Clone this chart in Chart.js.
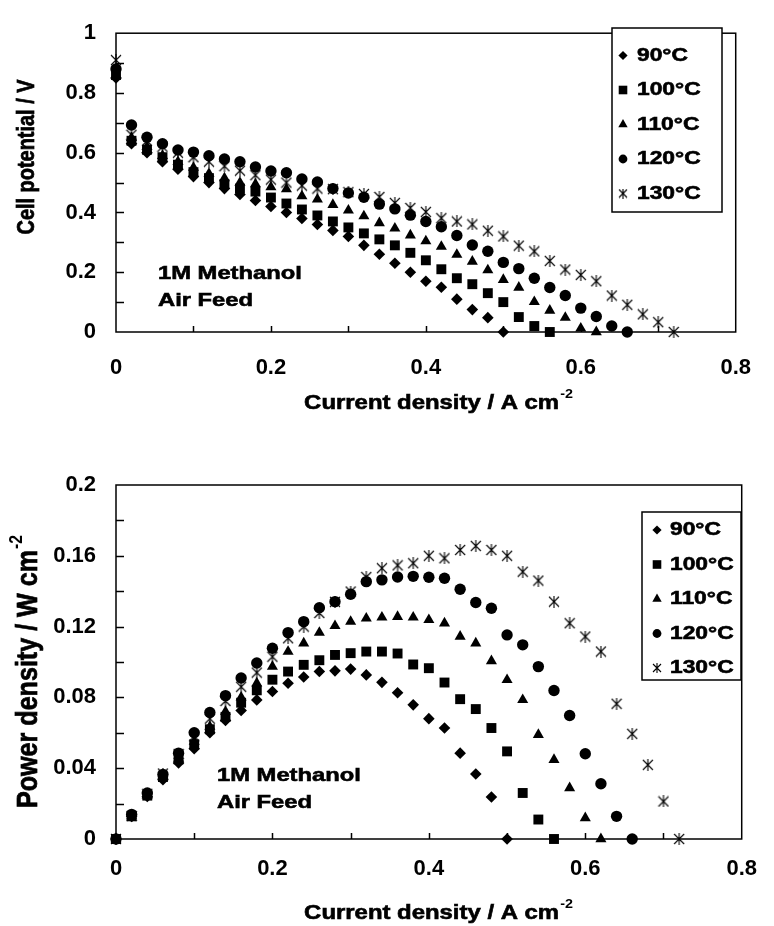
<!DOCTYPE html>
<html>
<head>
<meta charset="utf-8">
<script src="https://cdn.jsdelivr.net/npm/chart.js@4.4.1/dist/chart.umd.min.js"></script>
<style>
  body { margin: 0; background: #fff; width: 774px; height: 926px; overflow: hidden; position: relative; }
  .box { position: absolute; left: 0; width: 774px; }
</style>
</head>
<body>
<div class="box" style="top:0;height:440px"><canvas id="voltChart"></canvas></div>
<div class="box" style="top:440px;height:486px"><canvas id="powerChart"></canvas></div>
<script>
// current density, A cm-2
const current = [0, 0.02, 0.04, 0.06, 0.08, 0.1, 0.12, 0.14, 0.16, 0.18, 0.2, 0.22, 0.24, 0.26, 0.28, 0.3, 0.32, 0.34, 0.36,
  0.38, 0.4, 0.42, 0.44, 0.46, 0.48, 0.5, 0.52, 0.54, 0.56, 0.58, 0.6, 0.62, 0.64, 0.66, 0.68, 0.7, 0.72];
const temps = ['90°C', '100°C', '110°C', '120°C', '130°C'];

// cell potential, V
const volt90 = [0.85, 0.63, 0.60, 0.57, 0.545, 0.52, 0.50, 0.48, 0.46, 0.44, 0.42, 0.40, 0.38, 0.36, 0.34, 0.32, 0.29,
  0.26, 0.23, 0.20, 0.17, 0.15, 0.11, 0.075, 0.048, 0];
const volt100 = [0.86, 0.64, 0.61, 0.585, 0.56, 0.535, 0.515, 0.495, 0.48, 0.47, 0.45, 0.43, 0.41, 0.39, 0.37, 0.35, 0.33,
  0.31, 0.29, 0.265, 0.24, 0.21, 0.18, 0.16, 0.13, 0.10, 0.05, 0.02, 0];
const volt110 = [0.86, 0.65, 0.62, 0.59, 0.57, 0.55, 0.53, 0.515, 0.50, 0.495, 0.485, 0.478, 0.455, 0.444, 0.426, 0.407,
  0.388, 0.365, 0.347, 0.324, 0.304, 0.286, 0.259, 0.236, 0.207, 0.175, 0.149, 0.101, 0.072, 0.048, 0.012, 0];
const volt120 = [0.88, 0.693, 0.652, 0.63, 0.609, 0.602, 0.59, 0.579, 0.57, 0.552, 0.539, 0.533, 0.512, 0.502, 0.48, 0.465,
  0.451, 0.428, 0.412, 0.391, 0.37, 0.352, 0.323, 0.291, 0.27, 0.233, 0.212, 0.18, 0.149, 0.122, 0.08, 0.052, 0.02, 0];
const volt130 = [0.91, 0.66, 0.64, 0.62, 0.60, 0.585, 0.57, 0.555, 0.54, 0.525, 0.51, 0.50, 0.49, 0.48, 0.478, 0.468,
  0.462, 0.452, 0.432, 0.415, 0.402, 0.381, 0.37, 0.36, 0.339, 0.32, 0.289, 0.27, 0.238, 0.209, 0.191, 0.17, 0.122,
  0.091, 0.059, 0.033, 0];

// power density, W cm-2
const pow90 = [0, 0.0128, 0.024, 0.0335, 0.043, 0.051, 0.060, 0.067, 0.0726, 0.0786, 0.0833, 0.088, 0.0915, 0.0946,
  0.095, 0.096, 0.0927, 0.0885, 0.0826, 0.0758, 0.068, 0.0627, 0.0485, 0.0367, 0.0237, 0];
const pow100 = [0, 0.0128, 0.0245, 0.035, 0.045, 0.0535, 0.062, 0.069, 0.077, 0.084, 0.090, 0.0946, 0.0984, 0.101, 0.104,
  0.105, 0.1059, 0.1059, 0.1048, 0.0986, 0.0965, 0.0884, 0.079, 0.0734, 0.0627, 0.0495, 0.026, 0.011, 0];
const pow110 = [0, 0.013, 0.025, 0.0355, 0.0455, 0.055, 0.0635, 0.072, 0.080, 0.088, 0.0974, 0.1059, 0.1106, 0.1166,
  0.1204, 0.1228, 0.1247, 0.1252, 0.1256, 0.1252, 0.1238, 0.1219, 0.1144, 0.1106, 0.1006, 0.0899, 0.0786, 0.0589,
  0.0448, 0.0288, 0.0119, 0];
const pow120 = [0, 0.0139, 0.026, 0.0365, 0.0485, 0.060, 0.0715, 0.081, 0.091, 0.0994, 0.1078, 0.1166, 0.1228, 0.1307,
  0.1341, 0.1383, 0.1454, 0.1464, 0.148, 0.1484, 0.1479, 0.1473, 0.1411, 0.1336, 0.1304, 0.1153, 0.1097, 0.0974,
  0.0839, 0.0698, 0.0482, 0.0312, 0.0128, 0];
const pow130 = [0, 0.013, 0.0255, 0.037, 0.048, 0.058, 0.068, 0.078, 0.086, 0.094, 0.103, 0.1134, 0.12, 0.1277, 0.134,
  0.1398, 0.148, 0.153, 0.1546, 0.1558, 0.160, 0.1586, 0.1633, 0.1656, 0.1633, 0.160, 0.151, 0.146, 0.1341, 0.1219,
  0.1144, 0.1059, 0.0764, 0.0594, 0.0419, 0.0212, 0];

// axis ticks
const xTicks = [0, 0.2, 0.4, 0.6, 0.8];
const xTickMarks = [0.1, 0.2, 0.3, 0.4, 0.5, 0.6, 0.7];
const voltTicks = [0, 0.2, 0.4, 0.6, 0.8, 1];
const voltTickMarks = [0.1, 0.2, 0.3, 0.4, 0.5, 0.6, 0.7, 0.8, 0.9];
const powTicks = [0, 0.04, 0.08, 0.12, 0.16, 0.2];
const powTickMarks = [0.02, 0.04, 0.06, 0.08, 0.1, 0.12, 0.14, 0.16, 0.18];

const FONT = '"Liberation Sans", Arial, Helvetica, sans-serif';

function makeStar(size) {
  const c = document.createElement('canvas');
  c.width = c.height = size;
  const g = c.getContext('2d');
  g.strokeStyle = '#000';
  g.lineWidth = 1.1;
  g.beginPath();
  g.moveTo(1, 1); g.lineTo(size - 1, size - 1);
  g.moveTo(size - 1, 1); g.lineTo(1, size - 1);
  g.moveTo(size / 2, 0); g.lineTo(size / 2, size);
  g.stroke();
  return c;
}
const star = makeStar(12);
const starSmall = makeStar(10);

const styles = ['rectRot', 'rect', 'triangle', 'circle', star];
const radii = [5.8, 7, 6.4, 5.7, 6];

function drawMarker(ctx, i, x, y) {
  ctx.save();
  ctx.fillStyle = '#000';
  ctx.beginPath();
  if (i === 0) {
    const r = 4.6;
    ctx.moveTo(x - r, y); ctx.lineTo(x, y - r); ctx.lineTo(x + r, y); ctx.lineTo(x, y + r);
  } else if (i === 1) {
    const h = 4.3;
    ctx.rect(x - h, y - h, 2 * h, 2 * h);
  } else if (i === 2) {
    const r = 5.4;
    ctx.moveTo(x, y - r); ctx.lineTo(x + r * 0.866, y + r / 2); ctx.lineTo(x - r * 0.866, y + r / 2);
  } else if (i === 3) {
    ctx.arc(x, y, 4.4, 0, Math.PI * 2);
  } else {
    ctx.drawImage(starSmall, x - 5, y - 5);
    ctx.restore();
    return;
  }
  ctx.closePath();
  ctx.fill();
  ctx.restore();
}

// bold text, widened a little like the scanned figure
function stretchText(ctx, str, x, y, size, sx) {
  ctx.save();
  ctx.font = 'bold ' + size + 'px ' + FONT;
  ctx.fillStyle = '#000';
  ctx.strokeStyle = '#000';
  ctx.lineWidth = 0.6;
  ctx.translate(x, y);
  ctx.scale(sx, 1);
  ctx.textAlign = 'left';
  ctx.textBaseline = 'middle';
  ctx.fillText(str, 0, 0);
  ctx.strokeText(str, 0, 0);
  ctx.restore();
}

// axis title of a given length, optional raised exponent, centred on (cx, cy)
function axisTitle(ctx, main, exp, cx, cy, size, len, rotate) {
  ctx.save();
  ctx.fillStyle = '#000';
  ctx.strokeStyle = '#000';
  ctx.lineWidth = 0.6;
  ctx.translate(cx, cy);
  if (rotate) { ctx.scale(1.2, 1); ctx.rotate(-Math.PI / 2); }
  const bigFont = 'bold ' + size + 'px ' + FONT;
  const smallFont = 'bold ' + Math.round(size * 0.62) + 'px ' + FONT;
  ctx.font = bigFont;
  const wMain = ctx.measureText(main).width;
  const sx = len / wMain;
  ctx.font = smallFont;
  const wExp = exp ? ctx.measureText(exp).width * sx : 0;
  ctx.scale(sx, 1);
  ctx.textBaseline = 'middle';
  ctx.textAlign = 'left';
  const start = -(len + wExp) / 2 / sx;
  ctx.font = bigFont;
  ctx.fillText(main, start, 0);
  ctx.strokeText(main, start, 0);
  if (exp) {
    ctx.font = smallFont;
    ctx.fillText(exp, start + wMain + 1, -size * 0.42);
  }
  ctx.restore();
}

const framePlugin = {
  id: 'frame',
  beforeDatasetsDraw(chart, args, o) {
    const { ctx, chartArea: a, scales: { x, y } } = chart;
    ctx.save();
    ctx.strokeStyle = '#000';
    ctx.lineWidth = 1.5;
    ctx.strokeRect(a.left, a.top, a.right - a.left, a.bottom - a.top);
    ctx.beginPath();
    o.xMarks.forEach(v => {
      const px = Math.round(x.getPixelForValue(v)) + 0.5;
      ctx.moveTo(px, a.bottom); ctx.lineTo(px, a.bottom - 6);
    });
    o.yMarks.forEach(v => {
      const py = Math.round(y.getPixelForValue(v)) + 0.5;
      ctx.moveTo(a.left, py); ctx.lineTo(a.left + 8, py);
    });
    ctx.stroke();
    ctx.restore();
  },
  afterDraw(chart, args, o) {
    const ctx = chart.ctx;
    axisTitle(ctx, 'Current density / A cm', '-2', o.xTitle.x, o.xTitle.y, 20, 255, false);
    axisTitle(ctx, o.yTitle.text, o.yTitle.exp, o.yTitle.x, o.yTitle.y, o.yTitle.size, o.yTitle.len, true);
    stretchText(ctx, '1M Methanol', o.note.x, o.note.y, 19, 1.25);
    stretchText(ctx, 'Air Feed', o.note.x, o.note.y + 27, 19, 1.25);
    const L = o.legend;
    ctx.save();
    ctx.fillStyle = '#fff';
    ctx.fillRect(L.x, L.y, L.w, L.h);
    ctx.strokeStyle = '#000';
    ctx.lineWidth = 1.5;
    ctx.strokeRect(L.x, L.y, L.w, L.h);
    ctx.restore();
    temps.forEach((t, i) => {
      const cy = L.y + L.first + i * L.step;
      drawMarker(ctx, i, L.x + L.mx, cy);
      stretchText(ctx, t, L.x + L.tx, cy, 19, 1.2);
    });
  }
};

function scatterSets(series) {
  return series.map((vals, i) => ({
    label: temps[i],
    data: vals.map((v, k) => ({ x: current[k], y: v })),
    pointStyle: styles[i],
    pointRadius: radii[i],
    pointBackgroundColor: '#000',
    pointBorderColor: '#000',
    pointBorderWidth: 0,
    showLine: false,
    clip: false
  }));
}

function makeChart(id, series, yMax, yTicks, yMarks, pad, xHeight, extra) {
  return new Chart(document.getElementById(id), {
    type: 'scatter',
    data: { datasets: scatterSets(series) },
    plugins: [framePlugin],
    options: {
      responsive: true,
      maintainAspectRatio: false,
      animation: false,
      events: [],
      layout: { padding: pad },
      plugins: {
        legend: { display: false },
        tooltip: { enabled: false },
        frame: Object.assign({ xMarks: xTickMarks, yMarks: yMarks }, extra)
      },
      scales: {
        x: {
          type: 'linear', min: 0, max: 0.8,
          afterBuildTicks: s => { s.ticks = xTicks.map(v => ({ value: v })); },
          afterFit: s => { s.height = xHeight; },
          grid: { display: false, drawTicks: false },
          border: { display: false },
          ticks: {
            color: '#000', padding: extra.xPad, maxRotation: 0, autoSkip: false,
            font: { family: FONT, size: 22, weight: 'bold' },
            callback: v => String(Math.round(v * 100) / 100)
          }
        },
        y: {
          type: 'linear', min: 0, max: yMax,
          afterBuildTicks: s => { s.ticks = yTicks.map(v => ({ value: v })); },
          afterFit: s => { s.width = 116; },
          grid: { display: false, drawTicks: false },
          border: { display: false },
          ticks: {
            color: '#000', padding: 20, autoSkip: false,
            font: { family: FONT, size: 22, weight: 'bold' },
            callback: v => String(Math.round(v * 100) / 100)
          }
        }
      }
    }
  });
}

makeChart('voltChart', [volt90, volt100, volt110, volt120, volt130], 1, voltTicks, voltTickMarks,
  { top: 16, right: 22, left: 0, bottom: 0 }, 108, {
    xPad: 23,
    xTitle: { x: 438, y: 403 },
    yTitle: { text: 'Cell potential / V', exp: '', x: 28, y: 157, size: 19.5, len: 155 },
    note: { x: 158, y: 274 },
    legend: { x: 612, y: 28, w: 110, h: 184, first: 27.5, step: 34.5, mx: 11, tx: 25 }
  });

makeChart('powerChart', [pow90, pow100, pow110, pow120, pow130], 0.2, powTicks, powTickMarks,
  { top: 45, right: 22, left: 0, bottom: 0 }, 87, {
    xPad: 17,
    xTitle: { x: 438, y: 473 },
    yTitle: { text: 'Power density / W cm', exp: '-2', x: 29, y: 232, size: 24, len: 258 },
    note: { x: 217, y: 336 },
    legend: { x: 642, y: 72, w: 99, h: 168, first: 18, step: 34.5, mx: 15, tx: 28 }
  });
</script>
</body>
</html>
